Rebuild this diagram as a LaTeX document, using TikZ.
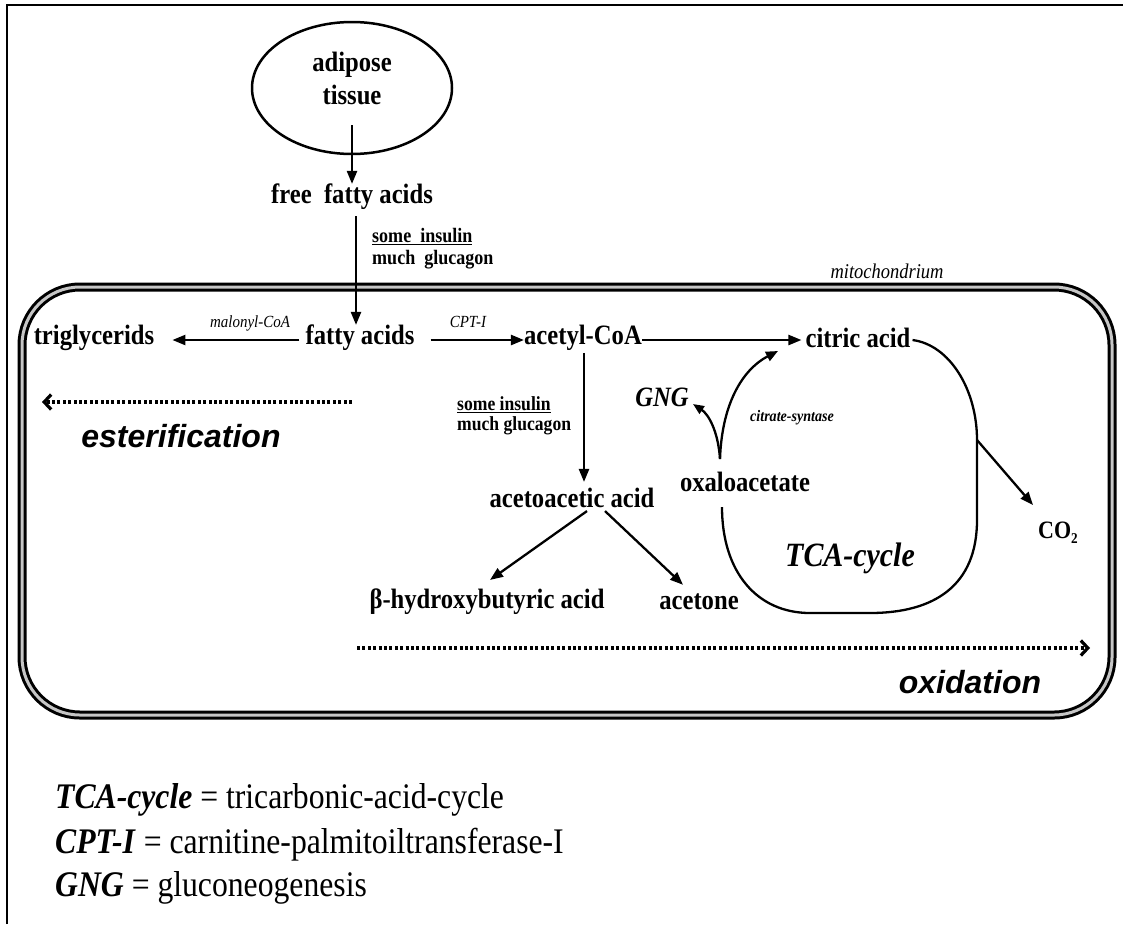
\documentclass[tikz,border=0pt]{standalone}
\usepackage{fontspec}
\setmainfont{Liberation Serif}
\newfontfamily\cserif{Liberation Serif}[FakeStretch=0.88]
\newfontfamily\arialf{Liberation Sans}
\usetikzlibrary{arrows.meta,shapes.geometric}
\begin{document}
\begin{tikzpicture}[x=1pt,y=-1pt,
  lbl/.style={font=\fontsize{28}{30}\selectfont\cserif\bfseries, inner sep=0pt},
  cond/.style={font=\fontsize{20.5}{22}\selectfont\cserif\bfseries, inner sep=0pt, align=left},
  enz/.style={font=\fontsize{17}{18}\selectfont\cserif\itshape, inner sep=0pt},
  arr/.style={-{Triangle[length=13pt,width=10pt]}, line width=2.3pt},
  dots/.style={-{Straight Barb[length=7pt,width=15pt]}, line width=3.2pt, dash pattern=on 3pt off 2.4pt},
  proc/.style={font=\fontsize{32}{34}\selectfont\arialf\bfseries\itshape, inner sep=0pt},
  leg/.style={font=\fontsize{36}{38}\selectfont\cserif, inner sep=0pt, anchor=west}]
\useasboundingbox (0,0) rectangle (1123,924);
\fill[white] (0,0) rectangle (1123,924);
% outer frame (only top and left visible)
\draw[line width=2.5pt] (7,924) -- (7,5) -- (1123,5);
% mitochondrium
\draw[rounded corners=58pt, line width=3pt, double=gray!45, double distance=3pt] (22,287) rectangle (1112,715);
\node[font=\fontsize{21}{22}\selectfont\cserif\itshape, inner sep=0pt] (mito) at (887,271) {mitochondrium};
% adipose tissue
\node[draw, ellipse, line width=2.5pt, minimum width=200pt, minimum height=132pt] (adip) at (352,88) {};
\node[font=\fontsize{28}{33}\selectfont\cserif\bfseries, align=center, inner sep=0pt] (adipt) at (352,78) {adipose\\tissue};
\coordinate (adin) at (352,125);
\node[lbl] (ffa) at (352,197) {free\ \ fatty acids};
\draw[arr] (adin) -- (ffa.north);
\node[cond, anchor=west] (c1) at (372,249) {\underline{some\ \ insulin}\\much\ \ glucagon};
% main row
\node[lbl] (fa) at (360,338) {fatty acids};
\node[lbl] (tg) at (94,338) {triglycerids};
\node[lbl] (ac) at (583,338) {acetyl-CoA};
\node[lbl] (ca) at (858,338) {citric acid};
\draw[arr] (ffa.south -| 356,0) ++(0,6) coordinate (ffab) -- (ffab |- fa.north);
\draw[arr] ([xshift=-6pt,yshift=-2pt]fa.west) -- ([xshift=18pt,yshift=-2pt]tg.east);
\node[enz] (mal) at (250,323) {malonyl-CoA};
\draw[arr] ([xshift=16pt,yshift=-2pt]fa.east) -- ([yshift=-2pt]ac.west);
\node[enz] (cpt) at (468,322) {CPT-I};
\draw[arr] ([yshift=-2pt]ac.east) -- ([xshift=-4pt,yshift=-2pt]ca.west);
% ketone bodies
\node[lbl] (aa) at (572,498) {acetoacetic acid};
\draw[arr] ([xshift=1pt,yshift=-2pt]ac.south) -- ([xshift=12pt,yshift=6pt]aa.north);
\node[cond, anchor=west, font=\fontsize{20}{20}\selectfont\cserif\bfseries] (c2) at (457,416) {\underline{some insulin}\\much glucagon};
\node[lbl] (bh) at (487,602) {β-hydroxybutyric acid};
\node[lbl] (act) at (699,602) {acetone};
\draw[arr] ([xshift=15pt,yshift=-3pt]aa.south) -- ([xshift=3pt,yshift=9pt]bh.north);
\draw[arr] ([xshift=33pt,yshift=-3pt]aa.south) -- ([xshift=-16pt,yshift=9pt]act.north);
% oxaloacetate, GNG
\node[lbl] (ox) at (745,482) {oxaloacetate};
\node[font=\fontsize{28}{30}\selectfont\cserif\bfseries\itshape, inner sep=0pt] (gng) at (662,397) {GNG};
\coordinate (oxtop) at (720,459);
\coordinate (oxbot) at (722,507);
\draw[arr, -{Triangle[length=11pt,width=9pt]}] (oxtop) .. controls (718,430) and (708,414) .. (693,404);
\draw[arr, -{Triangle[length=12pt,width=10pt]}] (oxtop) .. controls (722,400) and (745,368) .. (778,351);
\node[font=\fontsize{16}{16}\selectfont\cserif\bfseries\itshape, inner sep=0pt] (cs) at (792,418) {citrate-syntase};
% TCA cycle
\draw[line width=2.3pt] ([xshift=2pt,yshift=-2pt]ca.east) .. controls (950,345) and (977,390) .. (977,440)
   coordinate (cyc) -- (977,520) .. controls (977,585) and (935,613) .. (870,613) -- (810,613)
   .. controls (757,613) and (722,572) .. (oxbot);
\node[font=\fontsize{34}{36}\selectfont\cserif\bfseries\itshape, inner sep=0pt] (tca) at (850,558) {TCA-cycle};
\node[font=\fontsize{25}{26}\selectfont\cserif\bfseries, inner sep=0pt] (co2) at (1058,533) {CO\raisebox{-5pt}{\fontsize{15}{15}\selectfont 2}};
\draw[arr] (cyc) -- (1033,505) coordinate (co2tip);
% processes
\coordinate (es0) at (352,402);
\coordinate (es1) at (42,402);
\draw[dots] (es0) -- (es1);
\node[proc] (est) at (181,436) {esterification};
\coordinate (ox0) at (357,648);
\coordinate (ox1) at (1090,648);
\draw[dots] (ox0) -- (ox1);
\node[proc] (oxi) at (970,682) {oxidation};
% legend
\node[leg] (l1) at (55,800) {\textbf{\textit{TCA-cycle}} = tricarbonic-acid-cycle};
\node[leg] (l2) at (55,845) {\textbf{\textit{CPT-I}} = carnitine-palmitoiltransferase-I};
\node[leg] (l3) at (55,888) {\textbf{\textit{GNG}} = gluconeogenesis};
\end{tikzpicture}
\end{document}
